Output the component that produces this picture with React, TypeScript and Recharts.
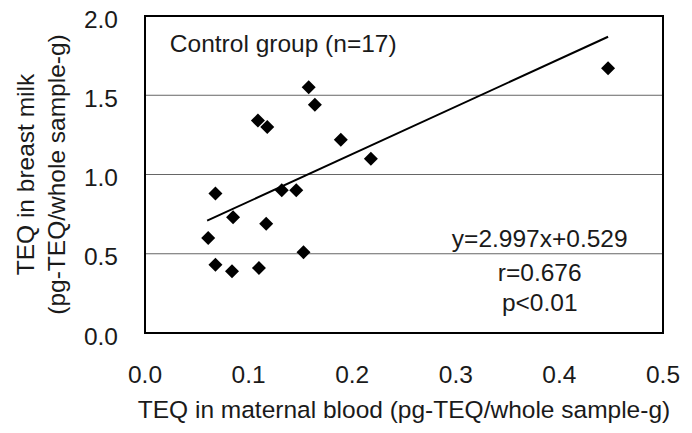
import React from 'react';
import {
  ScatterChart,
  Scatter,
  XAxis,
  YAxis,
  CartesianGrid,
  ReferenceArea,
  ReferenceDot,
} from 'recharts';

// TEQ in maternal blood vs breast milk, control group
const bloodTEQ = [
  0.158, 0.164, 0.109, 0.118, 0.189, 0.218, 0.068, 0.132, 0.146,
  0.085, 0.117, 0.061, 0.153, 0.068, 0.084, 0.110, 0.447,
];
const milkTEQ = [
  1.55, 1.44, 1.34, 1.30, 1.22, 1.10, 0.88, 0.90, 0.90,
  0.73, 0.69, 0.60, 0.51, 0.43, 0.39, 0.41, 1.67,
];
// regression line end points (y=2.997x+0.529)
const fitX = [0.06, 0.447];
const fitY = [0.709, 1.869];

const xTicks = [0, 0.1, 0.2, 0.3, 0.4, 0.5];
const yTicks = [0, 0.5, 1.0, 1.5, 2.0];

const points = bloodTEQ.map((x, i) => ({ x, y: milkTEQ[i] }));
const fitLine = fitX.map((x, i) => ({ x, y: fitY[i] }));

const FONT = '"Liberation Sans", Arial, sans-serif';
const FS = 24.5;
const TXT = '#1a1a1a';

const Diamond = (props: any) => {
  const { cx, cy } = props;
  const r = 7;
  return (
    <polygon
      points={`${cx},${cy - r} ${cx + r},${cy} ${cx},${cy + r} ${cx - r},${cy}`}
      fill="#000"
    />
  );
};

const NoDot = () => <g />;

const YTitle = (props: any) => {
  const { viewBox } = props;
  const cy = viewBox.y + viewBox.height / 2;
  const lines = [
    { x: 25, text: 'TEQ in breast milk' },
    { x: 56, text: '(pg-TEQ/whole sample-g)' },
  ];
  return (
    <g>
      {lines.map((l) => (
        <text
          key={l.text}
          x={l.x}
          y={cy}
          transform={`rotate(-90, ${l.x}, ${cy})`}
          textAnchor="middle"
          dominantBaseline="central"
          fontFamily={FONT}
          fontSize={FS}
          fill={TXT}
        >
          {l.text}
        </text>
      ))}
    </g>
  );
};

const noteLabel = (value: string, position: any) => ({
  value,
  position,
  offset: 0,
  fontFamily: FONT,
  fontSize: FS,
  fill: TXT,
});

export default function App() {
  return (
    <div style={{ position: 'absolute', left: 0, top: 0, background: '#fff' }}>
      <ScatterChart
        width={692}
        height={433}
        margin={{ top: 16, right: 29, bottom: 0, left: 0 }}
      >
        <CartesianGrid vertical={false} stroke="#666" />
        <XAxis
          type="number"
          dataKey="x"
          domain={[0, 0.5]}
          ticks={xTicks}
          tickFormatter={(v: number) => v.toFixed(1)}
          height={100}
          axisLine={false}
          tickLine={false}
          tickSize={0}
          tickMargin={33}
          tick={{ fontFamily: FONT, fontSize: FS, fill: TXT }}
          label={{
            value: 'TEQ in maternal blood (pg-TEQ/whole sample-g)',
            position: 'insideBottom',
            offset: 15,
            fontFamily: FONT,
            fontSize: FS,
            fill: TXT,
          }}
        />
        <YAxis
          type="number"
          dataKey="y"
          domain={[0, 2]}
          ticks={yTicks}
          tickFormatter={(v: number) => v.toFixed(1)}
          width={145}
          axisLine={false}
          tickLine={false}
          tickSize={0}
          tickMargin={27}
          tick={{ fontFamily: FONT, fontSize: FS, fill: TXT, dy: 3 }}
          label={{ content: YTitle }}
        />
        <ReferenceArea
          x1={0}
          x2={0.5}
          y1={0}
          y2={2}
          fill="none"
          stroke="#000"
          strokeWidth={2}
          ifOverflow="visible"
        />
        <Scatter
          data={fitLine}
          line={{ stroke: '#000', strokeWidth: 2 }}
          shape={NoDot}
          isAnimationActive={false}
        />
        <Scatter data={points} shape={Diamond} isAnimationActive={false} />
        <ReferenceDot
          x={0.024}
          y={1.83}
          r={0}
          ifOverflow="visible"
          label={noteLabel('Control group (n=17)', 'right')}
        />
        <ReferenceDot
          x={0.381}
          y={0.6}
          r={0}
          ifOverflow="visible"
          label={noteLabel('y=2.997x+0.529', 'center')}
        />
        <ReferenceDot
          x={0.381}
          y={0.385}
          r={0}
          ifOverflow="visible"
          label={noteLabel('r=0.676', 'center')}
        />
        <ReferenceDot
          x={0.381}
          y={0.196}
          r={0}
          ifOverflow="visible"
          label={noteLabel('p<0.01', 'center')}
        />
      </ScatterChart>
    </div>
  );
}
